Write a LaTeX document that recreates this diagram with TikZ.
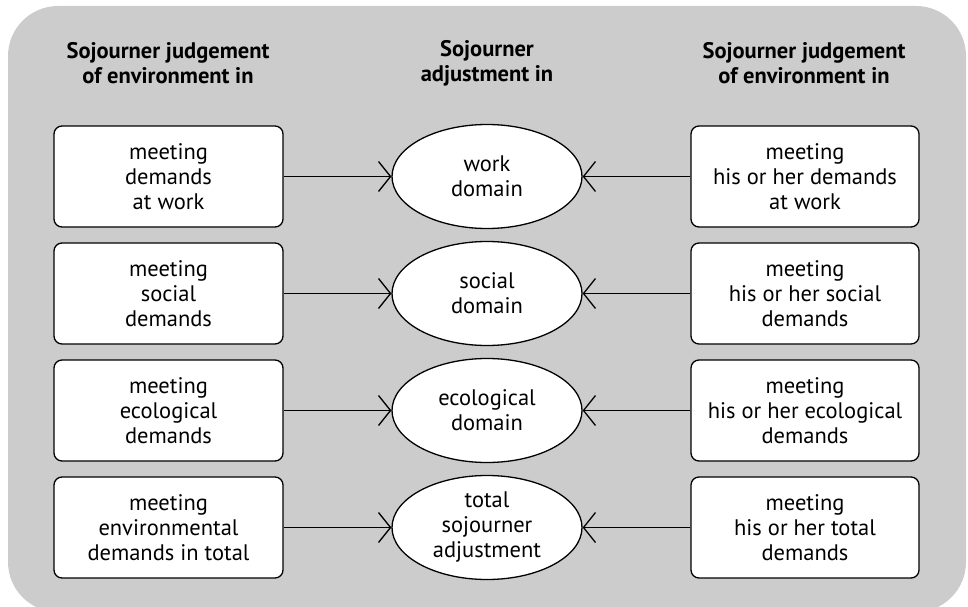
\documentclass[tikz,border=0pt]{standalone}
\usepackage{fontspec}
\setmainfont{PT Sans}
\usetikzlibrary{arrows.meta,shapes.geometric}
\definecolor{panel}{HTML}{CCCCCC}
\begin{document}
\begin{tikzpicture}[x=1pt,y=-1pt,
  every node/.style={font=\fontsize{22.5}{25}\selectfont},
  heading/.style={align=center,inner sep=0pt,font=\fontsize{22.5}{25}\selectfont\bfseries},
  judgebox/.style={draw,line width=1.3pt,fill=white,rounded corners=8pt,
    minimum width=229pt,minimum height=101pt,align=center,inner sep=0pt},
  domainoval/.style={draw,ellipse,line width=1.3pt,fill=white,
    minimum width=190pt,minimum height=104pt,align=center,inner sep=0pt},
  link/.style={line width=1.3pt,-{Straight Barb[length=12pt,width=30pt,line width=1.3pt]}}]
  \useasboundingbox (0,0) rectangle (968,607);
  % grey panel behind everything
  \fill[panel,rounded corners=50pt] (8,6) rectangle (966,612);

  % column headings
  \node[heading] (hl) at (168,63) {Sojourner judgement\\of environment in};
  \node[heading] (hm) at (487,63) {Sojourner\\adjustment in};
  \node[heading] (hr) at (804,63) {Sojourner judgement\\of environment in};

  % left column
  \node[judgebox] (l1) at (168.5,176.5) {meeting\\demands\\at work};
  \node[judgebox] (l2) at (168.5,293.5) {meeting\\social\\demands};
  \node[judgebox] (l3) at (168.5,410.5) {meeting\\ecological\\demands};
  \node[judgebox] (l4) at (168.5,527.5) {meeting\\environmental\\demands in total};

  % middle column
  \node[domainoval] (m1) at (487,176.5) {work\\domain};
  \node[domainoval] (m2) at (487,293.5) {social\\domain};
  \node[domainoval] (m3) at (487,410.5) {ecological\\domain};
  \node[domainoval] (m4) at (487,527.5) {total\\sojourner\\adjustment};

  % right column
  \node[judgebox,minimum width=228pt] (r1) at (805,176.5) {meeting\\his or her demands\\at work};
  \node[judgebox,minimum width=228pt] (r2) at (805,293.5) {meeting\\his or her social\\demands};
  \node[judgebox,minimum width=228pt] (r3) at (805,410.5) {meeting\\his or her ecological\\demands};
  \node[judgebox,minimum width=228pt] (r4) at (805,527.5) {meeting\\his or her total\\demands};

  % connectors
  \foreach \i in {1,2,3,4}{
    \draw[link] (l\i.east) -- (m\i.west);
    \draw[link] (r\i.west) -- (m\i.east);
  }
\end{tikzpicture}
\end{document}
